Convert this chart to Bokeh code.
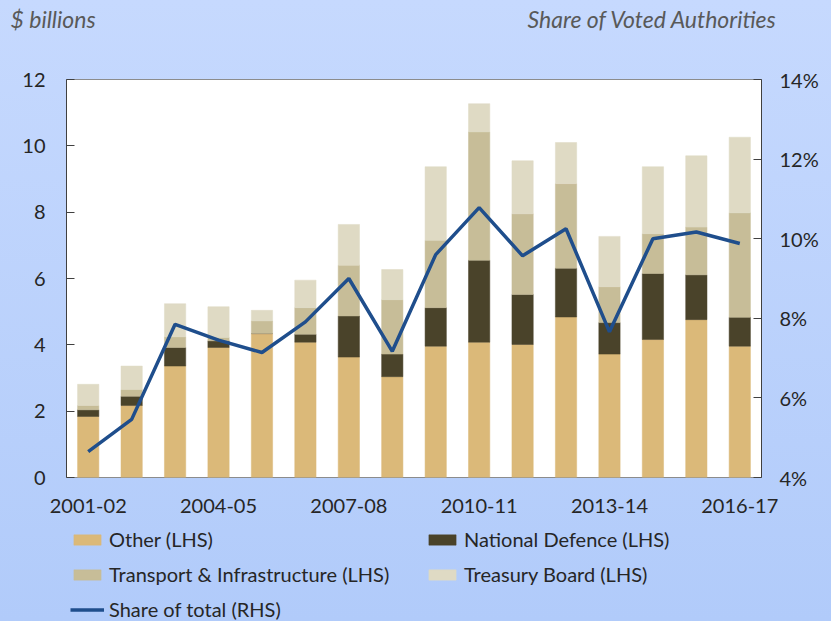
from bokeh.plotting import figure
from bokeh.layouts import column
from bokeh.models import (ColumnDataSource, Range1d, LinearAxis, FixedTicker,
                          Legend, LegendItem, Label, PrintfTickFormatter,
                          GlobalInlineStyleSheet)
from bokeh.embed import file_html
from bokeh.resources import INLINE

# ---- data ----
years = ["2001-02", "2002-03", "2003-04", "2004-05", "2005-06", "2006-07",
         "2007-08", "2008-09", "2009-10", "2010-11", "2011-12", "2012-13",
         "2013-14", "2014-15", "2015-16", "2016-17"]
other = [1.84, 2.17, 3.36, 3.92, 4.34, 4.08, 3.63, 3.04, 3.96, 4.08, 4.01, 4.84, 3.72, 4.16, 4.76, 3.96]
defence = [0.20, 0.28, 0.56, 0.20, 0.00, 0.24, 1.24, 0.68, 1.16, 2.47, 1.51, 1.47, 0.95, 1.99, 1.35, 0.87]
transport = [0.13, 0.20, 0.32, 0.10, 0.38, 0.80, 1.53, 1.64, 2.03, 3.87, 2.43, 2.55, 1.08, 1.20, 1.44, 3.15]
treasury = [0.64, 0.71, 1.00, 0.93, 0.32, 0.83, 1.23, 0.91, 2.22, 0.85, 1.60, 1.24, 1.52, 2.02, 2.15, 2.28]
share = [4.65, 5.46, 7.85, 7.45, 7.14, 7.91, 9.00, 7.17, 9.60, 10.78, 9.57, 10.25, 7.66, 10.00, 10.17, 9.88]

left_ticks = [0, 2, 4, 6, 8, 10, 12]
right_ticks = [4, 6, 8, 10, 12, 14]
label_every = 3

series_names = ["Other (LHS)", "National Defence (LHS)",
                "Transport & Infrastructure (LHS)", "Treasury Board (LHS)"]
line_name = "Share of total (RHS)"
left_title = "$ billions"
right_title = "Share of Voted Authorities"

# ---- styles ----
FONT = "Lato"
colors = ["#dbb979", "#4a432a", "#c7bd98", "#dfdac4"]
line_color = "#1f4e8c"
text_color = "#262626"
W = 831
HH = 60                       # header height
MT, FR, MB = 19, 398, 45      # main: top border, frame height, bottom border
MH = MT + FR + MB
FH = 621 - HH - MH            # footer height


def bare(fig):
    fig.border_fill_alpha = 0
    fig.background_fill_alpha = 0
    fig.outline_line_color = None
    fig.axis.visible = False
    fig.grid.visible = False
    fig.frame_align = False


# ---- header with the two axis titles ----
header = figure(width=W, height=HH, output_backend="svg", toolbar_location=None,
                x_range=Range1d(0, W), y_range=Range1d(0, HH),
                min_border_left=0, min_border_right=0, min_border_top=0,
                min_border_bottom=0)
bare(header)
for txt, xpos, align in ((left_title, 10, "left"), (right_title, 777, "right")):
    header.add_layout(Label(x=xpos, y=HH - 18, text=txt,
                            text_font=FONT, text_font_style="italic", text_font_size="23px",
                            text_color="#595959", text_baseline="middle", text_align=align))

# ---- main chart ----
idx = list(range(len(years)))
src = ColumnDataSource(dict(x=idx, other=other, defence=defence,
                            transport=transport, treasury=treasury, share=share))

p = figure(width=W, height=MH, output_backend="svg", toolbar_location=None,
           x_range=Range1d(-0.5, len(years) - 0.5), y_range=Range1d(0, 12),
           min_border_left=66, min_border_right=70, min_border_top=MT,
           min_border_bottom=MB)
p.frame_align = False
p.border_fill_alpha = 0
p.background_fill_color = "white"
p.outline_line_color = "#8c8c8c"
p.outline_line_width = 1
p.grid.visible = False

stack = p.vbar_stack(["other", "defence", "transport", "treasury"], x="x", width=0.49,
                     source=src, color=colors, line_width=0.5)

p.extra_y_ranges = {"pct": Range1d(4, 14)}
line = p.line("x", "share", source=src, y_range_name="pct",
              line_color=line_color, line_width=3.5)

ya = p.yaxis[0]
ya.ticker = FixedTicker(ticks=left_ticks)
ra = LinearAxis(y_range_name="pct", ticker=FixedTicker(ticks=right_ticks),
                formatter=PrintfTickFormatter(format="%d%%"))
p.add_layout(ra, "right")
for ax, standoff in ((ya, 21), (ra, 18)):
    ax.minor_tick_line_color = None
    ax.major_tick_in = 8
    ax.major_tick_out = 0
    ax.axis_line_color = "#404040"
    ax.major_tick_line_color = "#404040"
    ax.major_label_text_font = FONT
    ax.major_label_text_font_size = "20px"
    ax.major_label_text_color = text_color
    ax.major_label_standoff = standoff

xa = p.xaxis[0]
xticks = idx[::label_every]
xa.ticker = FixedTicker(ticks=xticks)
xa.major_label_overrides = {i: years[i] for i in xticks}
xa.minor_tick_line_color = None
xa.major_tick_line_color = None
xa.axis_line_color = None
xa.major_label_text_font = FONT
xa.major_label_text_font_size = "20px"
xa.major_label_text_color = text_color
xa.major_label_standoff = 15

# ---- footer with the legend (key glyphs sit outside the visible range) ----
footer = figure(width=W, height=FH, output_backend="svg", toolbar_location=None,
                x_range=Range1d(0, 1), y_range=Range1d(0, 1),
                min_border_left=0, min_border_right=0, min_border_top=0,
                min_border_bottom=0)
bare(footer)
key_src = ColumnDataSource(dict(x=[-5, -4], top=[-5, -5], y=[-5, -5]))
key_bars = [footer.vbar(x="x", top="top", width=0.5, source=key_src,
                        fill_color=c, line_color=c, line_width=0.5) for c in colors]
key_line = footer.line(x="x", y="y", source=key_src, line_color=line_color, line_width=3.5)

items = [LegendItem(label=series_names[k], renderers=[key_bars[k]]) for k in range(4)]
items.append(LegendItem(label=line_name, renderers=[key_line]))
leg = Legend(items=items, orientation="horizontal", ncols=2,
             location=(70, 0), padding=0, margin=0, spacing=11,
             glyph_width=34, glyph_height=13, label_height=22, label_width=305,
             label_standoff=5, label_text_font=FONT, label_text_font_size="20px",
             label_text_line_height=1.0,
             label_text_color=text_color, background_fill_alpha=0,
             border_line_color=None)
footer.add_layout(leg, "center")

layout = column(header, p, footer, spacing=0,
                styles={"background": "linear-gradient(180deg, #c6d9fe 0%, #b1cbfa 100%)"},
                stylesheets=[GlobalInlineStyleSheet(css="body { background: #b1cbfa; }")])

open("out.html", "w").write(file_html(layout, INLINE))
